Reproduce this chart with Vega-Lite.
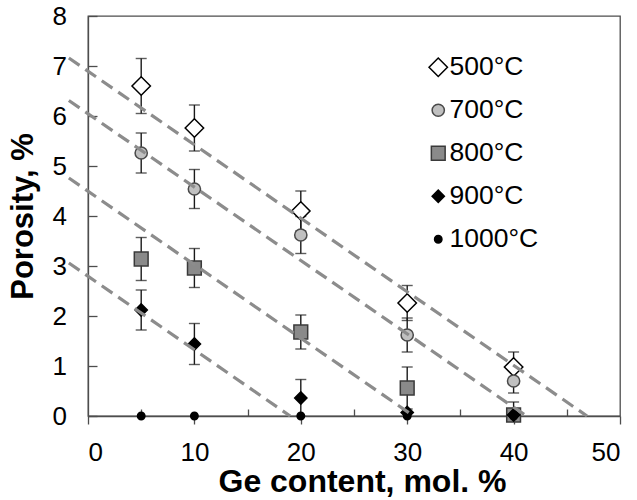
{
  "$schema": "https://vega.github.io/schema/vega-lite/v6.json",
  "width": 532,
  "height": 400,
  "autosize": {"type": "none"},
  "padding": {"left": 88, "top": 16, "right": 17, "bottom": 84},
  "background": "white",
  "config": {
    "view": {"stroke": "#4d4d4d", "strokeWidth": 1.3},
    "font": "Liberation Sans",
    "axis": {
      "grid": false,
      "domainColor": "#4d4d4d",
      "domainWidth": 1.3,
      "tickColor": "#4d4d4d",
      "tickWidth": 1.3,
      "labelFont": "Liberation Sans",
      "labelFontSize": 26,
      "labelColor": "black",
      "titleFont": "Liberation Sans",
      "titleFontWeight": "bold",
      "titleColor": "black"
    },
    "legend": {
      "orient": "none",
      "legendX": 337,
      "legendY": 38,
      "padding": 0,
      "labelFont": "Liberation Sans",
      "labelFontSize": 26.5,
      "labelColor": "black",
      "labelOffset": -2,
      "rowPadding": 16,
      "symbolStrokeWidth": 1.5
    }
  },
  "datasets": {
    "samples": [
      {"ge": 5, "porosity": 6.60, "err": 0.55, "temp": "500°C"},
      {"ge": 10, "porosity": 5.76, "err": 0.46, "temp": "500°C"},
      {"ge": 20, "porosity": 4.10, "err": 0.40, "temp": "500°C"},
      {"ge": 30, "porosity": 2.26, "err": 0.35, "temp": "500°C"},
      {"ge": 40, "porosity": 0.98, "err": 0.30, "temp": "500°C"},
      {"ge": 5, "porosity": 5.26, "err": 0.40, "temp": "700°C"},
      {"ge": 10, "porosity": 4.54, "err": 0.39, "temp": "700°C"},
      {"ge": 20, "porosity": 3.62, "err": 0.37, "temp": "700°C"},
      {"ge": 30, "porosity": 1.62, "err": 0.34, "temp": "700°C"},
      {"ge": 40, "porosity": 0.70, "err": 0.24, "temp": "700°C"},
      {"ge": 5, "porosity": 3.14, "err": 0.43, "temp": "800°C"},
      {"ge": 10, "porosity": 2.96, "err": 0.39, "temp": "800°C"},
      {"ge": 20, "porosity": 1.68, "err": 0.34, "temp": "800°C"},
      {"ge": 30, "porosity": 0.56, "err": 0.42, "temp": "800°C"},
      {"ge": 40, "porosity": 0.02, "err": 0.26, "temp": "800°C"},
      {"ge": 5, "porosity": 2.12, "err": 0.40, "temp": "900°C"},
      {"ge": 10, "porosity": 1.44, "err": 0.41, "temp": "900°C"},
      {"ge": 20, "porosity": 0.36, "err": 0.37, "temp": "900°C"},
      {"ge": 30, "porosity": 0.07, "err": 0, "temp": "900°C"},
      {"ge": 40, "porosity": 0.02, "err": 0, "temp": "900°C"},
      {"ge": 5, "porosity": 0, "err": 0, "temp": "1000°C"},
      {"ge": 10, "porosity": 0, "err": 0, "temp": "1000°C"},
      {"ge": 20, "porosity": 0, "err": 0, "temp": "1000°C"},
      {"ge": 30, "porosity": 0, "err": 0, "temp": "1000°C"},
      {"ge": 40, "porosity": 0, "err": 0, "temp": "1000°C"}
    ],
    "trends": [
      {"ge": -1.8, "porosity": 7.16, "temp": "500°C"},
      {"ge": 46.9, "porosity": 0, "temp": "500°C"},
      {"ge": -1.8, "porosity": 6.31, "temp": "700°C"},
      {"ge": 41.2, "porosity": 0, "temp": "700°C"},
      {"ge": -1.8, "porosity": 4.76, "temp": "800°C"},
      {"ge": 30.6, "porosity": 0, "temp": "800°C"},
      {"ge": -1.8, "porosity": 3.06, "temp": "900°C"},
      {"ge": 19.0, "porosity": 0, "temp": "900°C"}
    ]
  },
  "encoding": {
    "x": {
      "field": "ge", "type": "quantitative",
      "scale": {"domain": [0, 50], "nice": false},
      "axis": {
        "values": [0, 5, 10, 15, 20, 25, 30, 35, 40, 45, 50],
        "labelExpr": "datum.value % 10 === 0 ? datum.label : ''",
        "tickSize": {"condition": {"test": "datum.value % 10 === 0", "value": 8}, "value": -7},
        "labelPadding": 15,
        "title": "Ge content, mol. %",
        "titleFontSize": 32,
        "titlePadding": 1,
        "titleX": 274
      }
    },
    "y": {
      "field": "porosity", "type": "quantitative",
      "scale": {"domain": [0, 8], "nice": false},
      "axis": {
        "values": [0, 1, 2, 3, 4, 5, 6, 7, 8],
        "tickSize": -9,
        "labelAlign": "left",
        "labelPadding": 45,
        "title": "Porosity, %",
        "titleFontSize": 31,
        "titleX": -65,
        "titleY": 200,
        "titleBaseline": "middle"
      }
    }
  },
  "layer": [
    {
      "data": {"name": "samples"},
      "transform": [{"filter": "datum.err > 0"}],
      "mark": {
        "type": "errorbar",
        "clip": true,
        "rule": {"stroke": "#1a1a1a", "strokeWidth": 1.4},
        "ticks": {"size": 11, "thickness": 1.4, "color": "#1a1a1a"}
      },
      "encoding": {
        "yError": {"field": "err"}
      }
    },
    {
      "data": {"name": "samples"},
      "mark": {"type": "point", "filled": true, "strokeWidth": 1.5, "opacity": 1, "clip": false},
      "encoding": {
        "shape": {
          "field": "temp", "type": "nominal", "title": null,
          "scale": {
            "domain": ["500°C", "700°C", "800°C", "900°C", "1000°C"],
            "range": ["diamond", "circle", "square", "diamond", "circle"]
          }
        },
        "fill": {
          "field": "temp", "type": "nominal", "title": null,
          "scale": {
            "domain": ["500°C", "700°C", "800°C", "900°C", "1000°C"],
            "range": ["#ffffff", "#c0c0c0", "#8a8a8a", "#000000", "#000000"]
          }
        },
        "stroke": {
          "field": "temp", "type": "nominal", "title": null,
          "scale": {
            "domain": ["500°C", "700°C", "800°C", "900°C", "1000°C"],
            "range": ["#000000", "#4a4a4a", "#3a3a3a", "#000000", "#000000"]
          }
        },
        "size": {
          "field": "temp", "type": "nominal", "title": null,
          "scale": {
            "type": "ordinal",
            "domain": ["500°C", "700°C", "800°C", "900°C", "1000°C"],
            "range": [340, 150, 190, 150, 55]
          }
        }
      }
    },
    {
      "data": {"name": "trends"},
      "mark": {"type": "line", "clip": false, "stroke": "#8c8c8c", "strokeWidth": 3.2, "strokeDash": [13, 7]},
      "encoding": {
        "detail": {"field": "temp", "type": "nominal"}
      }
    }
  ]
}
